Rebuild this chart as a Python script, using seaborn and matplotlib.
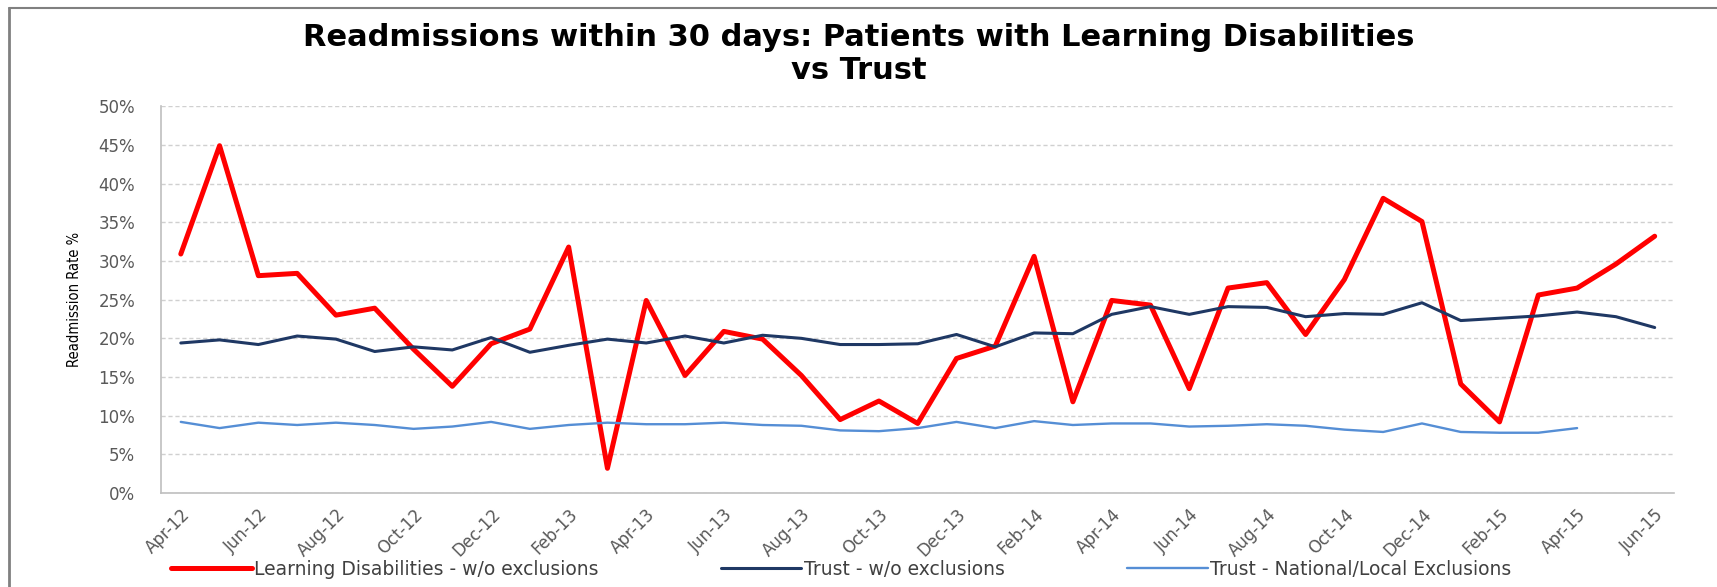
import matplotlib.pyplot as plt
import seaborn as sns
import numpy as np
import pandas as pd
from matplotlib.lines import Line2D

meses = ['Apr-12', 'May-12', 'Jun-12', 'Jul-12', 'Aug-12', 'Sep-12', 'Oct-12', 'Nov-12', 'Dec-12',
         'Jan-13', 'Feb-13', 'Mar-13', 'Apr-13', 'May-13', 'Jun-13', 'Jul-13', 'Aug-13', 'Sep-13',
         'Oct-13', 'Nov-13', 'Dec-13', 'Jan-14', 'Feb-14', 'Mar-14', 'Apr-14', 'May-14', 'Jun-14',
         'Jul-14', 'Aug-14', 'Sep-14', 'Oct-14', 'Nov-14', 'Dec-14', 'Jan-15', 'Feb-15', 'Mar-15',
         'Apr-15', 'May-15', 'Jun-15']

learning_dis = [30.9, 44.9, 28.1, 28.4, 23.0, 23.9, 18.6, 13.8, 19.3, 21.2, 31.8, 3.2, 24.9,
                15.2, 20.9, 19.9, 15.2, 9.5, 11.9, 9.0, 17.4, 19.0, 30.6, 11.8, 24.9, 24.3,
                13.5, 26.5, 27.2, 20.5, 27.6, 38.1, 35.1, 14.1, 9.2, 25.6, 26.5, 29.6, 33.2]

trust = [19.4, 19.8, 19.2, 20.3, 19.9, 18.3, 18.9, 18.5, 20.1, 18.2, 19.1, 19.9, 19.4,
         20.3, 19.4, 20.4, 20.0, 19.2, 19.2, 19.3, 20.5, 18.9, 20.7, 20.6, 23.1, 24.1,
         23.1, 24.1, 24.0, 22.8, 23.2, 23.1, 24.6, 22.3, 22.6, 22.9, 23.4, 22.8, 21.4]

trust_excl = [9.2, 8.4, 9.1, 8.8, 9.1, 8.8, 8.3, 8.6, 9.2, 8.3, 8.8, 9.1, 8.9,
              8.9, 9.1, 8.8, 8.7, 8.1, 8.0, 8.4, 9.2, 8.4, 9.3, 8.8, 9.0, 9.0,
              8.6, 8.7, 8.9, 8.7, 8.2, 7.9, 9.0, 7.9, 7.8, 7.8, 8.4]

series = ['Learning Disabilities - w/o exclusions', 'Trust - w/o exclusions',
          'Trust - National/Local Exclusions']
colores = ['#FF0000', '#1F3864', '#558ED5']
grosores = [3.6, 2.2, 1.7]

sns.set_style("white")
plt.rcParams['font.family'] = ['DejaVu Sans']

df = pd.DataFrame({
    'pos': np.arange(len(meses)),
    series[0]: learning_dis,
    series[1]: trust,
    series[2]: trust_excl + [np.nan] * (len(meses) - len(trust_excl)),
})

fig = plt.figure(figsize=(17.17, 5.87), dpi=100)
ax = fig.add_axes([0.094, 0.160, 0.881, 0.659])

for nombre, color, lw in zip(series, colores, grosores):
    sns.lineplot(data=df, x='pos', y=nombre, color=color, linewidth=lw, ax=ax, label=nombre)

ax.set_xlim(-0.5, len(meses) - 0.5)
ax.set_ylim(0, 50)
ax.set_yticks(range(0, 51, 5))
ax.set_yticklabels([f"{v}%" for v in range(0, 51, 5)], fontsize=12, color='#595959')
ticks = list(range(0, len(meses), 2))
ax.set_xticks(ticks)
ax.set_xticklabels([meses[i] for i in ticks], rotation=45, ha='right', rotation_mode='anchor',
                   fontsize=12, color='#595959')
ax.tick_params(axis='y', length=0, pad=19)
ax.tick_params(axis='x', length=0, pad=9)
ax.set_xlabel('')
ax.set_ylabel('Readmission Rate %', fontsize=10.5, fontstretch='condensed',
              color='#000000', labelpad=12)

ax.grid(axis='y', linestyle=(0, (3, 2)), color='#D0D0D0', linewidth=1)
ax.set_axisbelow(True)
for lado in ['top', 'right']:
    ax.spines[lado].set_visible(False)
for lado in ['left', 'bottom']:
    ax.spines[lado].set_color('#BFBFBF')
    ax.spines[lado].set_linewidth(1.2)

ax.get_legend().remove()
handles, labels = ax.get_legend_handles_labels()
fig.legend(handles, labels, loc='center', bbox_to_anchor=(0.49, 0.03), ncol=3,
           frameon=False, fontsize=13.5, handlelength=4.3, handletextpad=0.15, columnspacing=6.5,
           labelcolor='#404040')

fig.suptitle("Readmissions within 30 days: Patients with Learning Disabilities\nvs Trust",
             x=0.5, y=0.96, fontsize=22, fontweight='bold', color='#000000', linespacing=1.15)

# borde del area del grafico
fig.add_artist(Line2D([0.005, 0.005], [0.0, 0.986], transform=fig.transFigure, color='#808080', lw=2))
fig.add_artist(Line2D([0.005, 1.0], [0.986, 0.986], transform=fig.transFigure, color='#808080', lw=1.5))

fig.savefig('out.png', dpi=100)
